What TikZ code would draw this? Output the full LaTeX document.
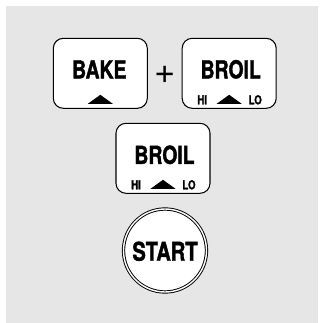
\documentclass[tikz,border=0pt]{standalone}
\usepackage{fontspec}
\newfontfamily\btnfont{TeX Gyre Heros}[FakeStretch=0.78, BoldFeatures={FakeBold=1.5}]
\newfontfamily\plusfont{TeX Gyre Heros}
\usetikzlibrary{calc}
\definecolor{panelgray}{HTML}{E6E6E6}

\begin{document}
\begin{tikzpicture}[x=0.03cm, y=-0.03cm,
    btnbox/.style={draw, fill=white, line width=0.9pt, rounded corners=0.3cm,
      minimum width=2.82cm, minimum height=2.1cm, inner sep=0pt},
    bigtext/.style={font=\btnfont\bfseries\fontsize{21.2}{22}\selectfont, inner sep=0pt},
    smalltext/.style={font=\btnfont\bfseries\fontsize{10.6}{11}\selectfont, inner sep=0pt}]
    \useasboundingbox (0,0) rectangle (320,323);
    \fill[panelgray] (6,6) rectangle (318.5,323);

    \node[btnbox] (bake) at (100.3,73.3) {};
    \node[btnbox] (broil top) at (229.2,73.3) {};
    \node[btnbox] (broil bottom) at (163,158.3) {};
    \node[font=\plusfont\fontsize{31}{31}\selectfont, inner sep=0pt] (plus) at (165,74.5) {+};

    \node[bigtext] (bake label) at ($(bake)+(-1,-4)$) {BAKE};
    \node[bigtext] (broil top label) at ($(broil top)+(1.5,-4)$) {BROIL};
    \node[bigtext] (broil bottom label) at ($(broil bottom)+(1.5,-3.5)$) {BROIL};

    \foreach \b in {broil top, broil bottom} {
        \node[smalltext] (\b\space hi) at ($(\b)+(-27,26.5)$) {HI};
        \node[smalltext] (\b\space lo) at ($(\b)+(26,26.5)$) {LO};
    }
    \foreach \b in {bake, broil top, broil bottom}
        \fill ($(\b)+(-12.5,30.5)$) -- ++(25,0) -- ++(-12.5,-9) -- cycle;

    \node[circle, draw, double, fill=white, line width=0.8pt, double distance=1.2pt,
      minimum size=2.49cm, inner sep=0pt] (start) at (165,250.5) {};
    \node[font=\btnfont\bfseries\fontsize{22}{22}\selectfont, inner sep=0pt] (start label) at (165,251.3) {START};
\end{tikzpicture}
\end{document}
